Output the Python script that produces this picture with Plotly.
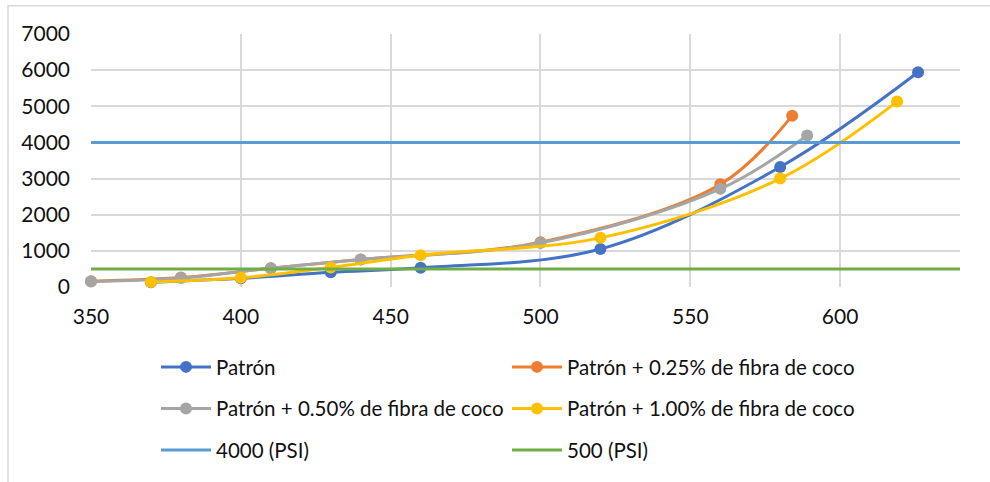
import plotly.graph_objects as go

# ---- data ----
patron_x = [370, 400, 430, 460, 520, 580, 626]
patron_y = [130, 240, 410, 530, 1050, 3320, 5940]

p025_x = [350, 380, 410, 440, 500, 560, 584]
p025_y = [160, 260, 520, 760, 1240, 2840, 4740]

p050_x = [350, 380, 410, 440, 500, 560, 589]
p050_y = [150, 246, 520, 760, 1220, 2716, 4192]

p100_x = [370, 400, 430, 460, 520, 580, 619]
p100_y = [140, 254, 540, 880, 1360, 3000, 5130]

ref_x = [350, 640]
ref4000_y = [4000, 4000]
ref500_y = [500, 500]

names = ["Patrón", "Patrón + 0.25% de fibra de coco",
         "Patrón + 0.50% de fibra de coco", "Patrón + 1.00% de fibra de coco",
         "4000 (PSI)", "500 (PSI)"]
colors = ["#4472C4", "#ED7D31", "#A5A5A5", "#FFC000", "#5B9BD5", "#70AD47"]

FONT = "Lato"
TXT = "#111111"

fig = go.Figure()
series = [(patron_x, patron_y, "legend"), (p025_x, p025_y, "legend"),
          (p050_x, p050_y, "legend2"), (p100_x, p100_y, "legend2")]
for i, (xs, ys, lg) in enumerate(series):
    fig.add_trace(go.Scatter(
        x=xs, y=ys, name=names[i], mode="lines+markers", legend=lg,
        line=dict(color=colors[i], width=3, shape="spline", smoothing=1),
        marker=dict(color=colors[i], size=12),
        cliponaxis=False))
fig.add_trace(go.Scatter(x=ref_x, y=ref4000_y, name=names[4], mode="lines",
                         legend="legend3", line=dict(color=colors[4], width=3)))
fig.add_trace(go.Scatter(x=ref_x, y=ref500_y, name=names[5], mode="lines",
                         legend="legend3", line=dict(color=colors[5], width=3)))

L, R, T, B = 91, 30, 34, 192
W, H = 990, 482
pw, ph = W - L - R, H - T - B

def py(pix):
    return (H - B - pix) / ph

def px(pix):
    return (pix - L) / pw

leg_common = dict(orientation="h", xanchor="left", yanchor="middle",
                  font=dict(family=FONT, size=20.5, color=TXT),
                  entrywidth=286, entrywidthmode="pixels", itemwidth=50,
                  bgcolor="rgba(0,0,0,0)", traceorder="normal")
lx = px(156)

fig.update_layout(
    width=W, height=H,
    margin=dict(l=L, r=R, t=T, b=B),
    paper_bgcolor="white", plot_bgcolor="white",
    font=dict(family=FONT, size=20.5, color=TXT),
    showlegend=True,
    legend=dict(x=lx, y=py(371), **leg_common),
    legend2=dict(x=lx, y=py(413), **leg_common),
    legend3=dict(x=lx, y=py(455), **leg_common),
    xaxis=dict(range=[350, 640], dtick=50, tick0=350, showgrid=True,
               gridcolor="#D9D9D9", gridwidth=1.5, zeroline=False,
               showline=False, ticks="", ticklabelstandoff=15,
               tickfont=dict(family=FONT, size=21, color=TXT)),
    yaxis=dict(range=[0, 7000], dtick=1000, showgrid=True,
               gridcolor="#D9D9D9", gridwidth=1.5, zeroline=False,
               showline=False, ticks="", ticklabelstandoff=20,
               tickfont=dict(family=FONT, size=21, color=TXT)),
    shapes=[dict(type="rect", xref="paper", yref="paper",
                 x0=px(8), x1=px(1000), y0=py(500), y1=py(5.5),
                 line=dict(color="#D9D9D9", width=1.5), layer="below")],
)

fig.write_html("out.html")
